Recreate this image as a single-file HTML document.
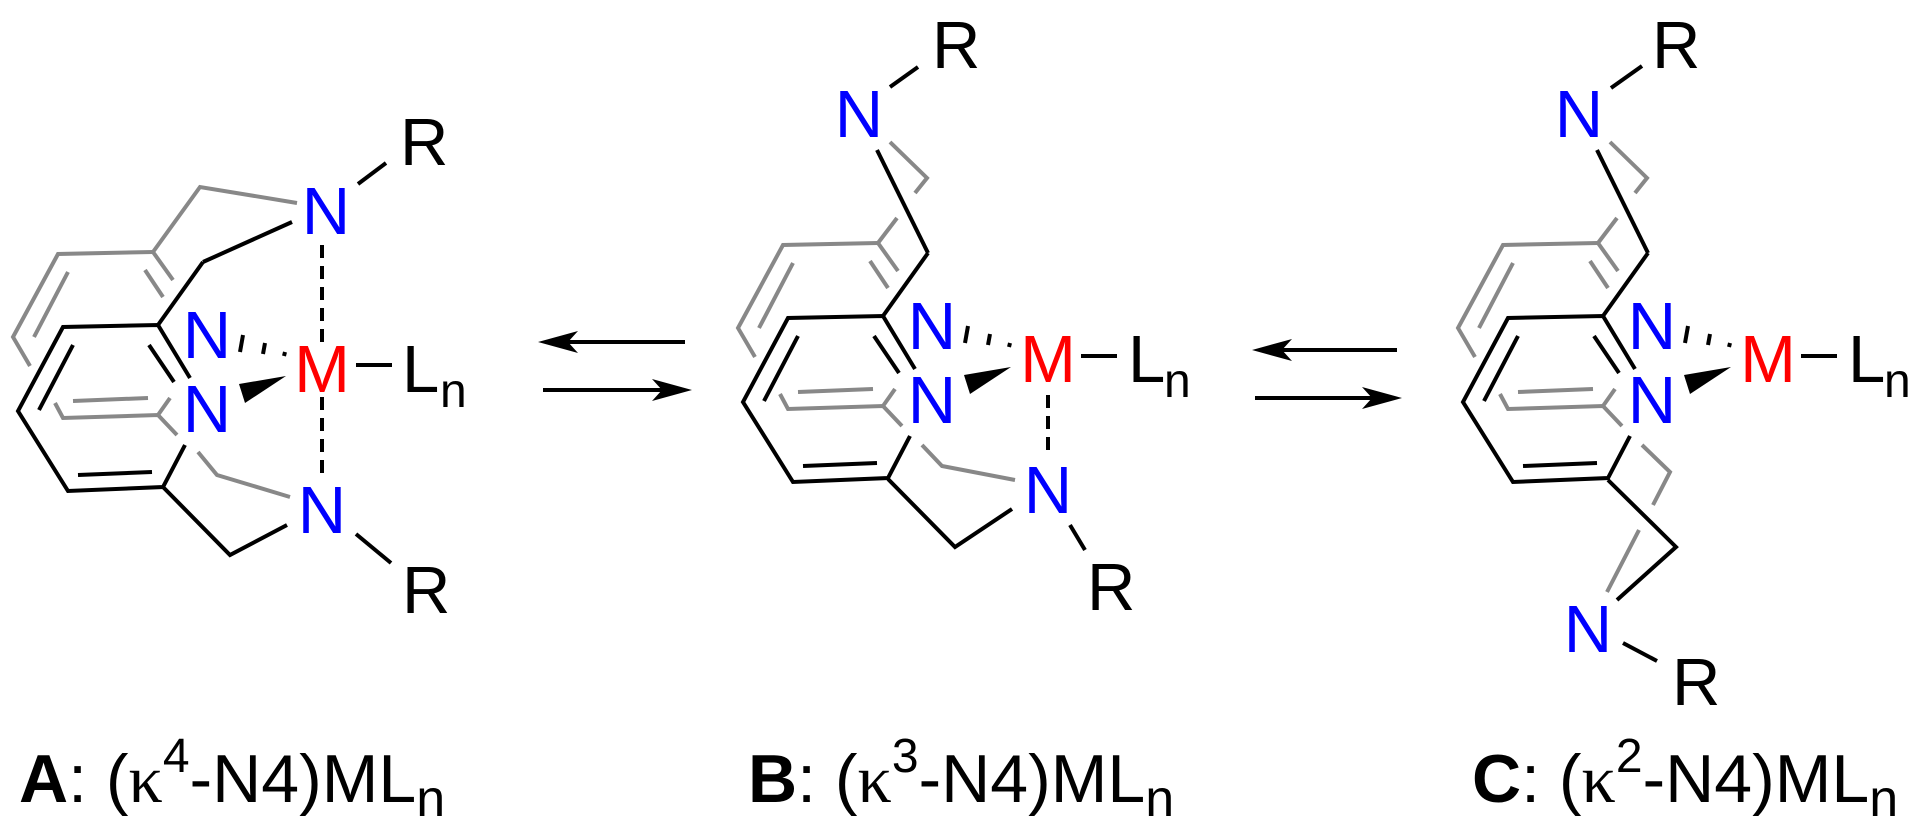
<!DOCTYPE html>
<html><head><meta charset="utf-8"><style>
html,body{margin:0;padding:0;background:#fff;}
svg{display:block;}
text{font-family:"Liberation Sans",sans-serif;}
</style></head><body>
<svg width="1920" height="836" viewBox="0 0 1920 836" xmlns="http://www.w3.org/2000/svg">
<defs>
<g id="ring">
  <g fill="none" stroke="#888" stroke-width="4" stroke-linejoin="miter">
    <polyline points="153,252 58,254 13,337 30,366"/>
    <line x1="68" y1="272" x2="34" y2="337"/>
    <line x1="145" y1="270" x2="163" y2="297"/>
    <line x1="153" y1="252" x2="173" y2="280"/>
    <polyline points="55,403 63,418 158,415 177,435"/>
    <line x1="158" y1="415" x2="170" y2="398"/>
    <line x1="73" y1="401" x2="148" y2="398"/>
  </g>
  <g fill="none" stroke="#000" stroke-width="4" stroke-linejoin="miter">
    <polyline points="190,378 158,325 63,327 18,411 68,491 163,487 185,445"/>
    <line x1="149" y1="345" x2="174" y2="382"/>
    <line x1="73" y1="345" x2="39" y2="410"/>
    <line x1="78" y1="475" x2="152" y2="472"/>
    <line x1="158" y1="325" x2="203" y2="262"/>
    <line x1="243" y1="335" x2="240" y2="352"/>
    <line x1="265" y1="343" x2="263" y2="354"/>
    <line x1="285" y1="352" x2="284" y2="356"/>
    <line x1="356" y1="365" x2="392" y2="365"/>
  </g>
  <polygon points="239,384 245,403 286,376" fill="#000"/>
</g>
</defs>

<!-- A -->
<use href="#ring"/>
<g fill="none" stroke="#888" stroke-width="4">
  <polyline points="297,203 200,187 153,252"/>
  <polyline points="198,452 217,475 290,497"/>
</g>
<g fill="none" stroke="#000" stroke-width="4">
  <polyline points="203,262 292,222"/>
  <line x1="358" y1="184" x2="386" y2="163"/>
  <polyline points="163,487 230,555 287,525"/>
  <line x1="356" y1="534" x2="391" y2="563"/>
  <line x1="322" y1="245" x2="322" y2="345" stroke-dasharray="13 8"/>
  <line x1="322" y1="397" x2="322" y2="477" stroke-dasharray="13 8"/>
</g>
<g font-size="67">
  <text x="326" y="234" fill="#00f" text-anchor="middle">N</text>
  <text x="400" y="165" fill="#000">R</text>
  <text x="207" y="358" fill="#00f" text-anchor="middle">N</text>
  <text x="207" y="432" fill="#00f" text-anchor="middle">N</text>
  <text x="322" y="392" fill="#f00" text-anchor="middle">M</text>
  <text x="402" y="392" fill="#000">L</text>
  <text x="322" y="533" fill="#00f" text-anchor="middle">N</text>
  <text x="402" y="613" fill="#000">R</text>
</g>
<text x="440" y="407" font-size="48">n</text>

<!-- B -->
<use href="#ring" transform="translate(725,-9)"/>
<g fill="none" stroke="#888" stroke-width="4">
  <line x1="878" y1="243" x2="897" y2="218"/>
  <polyline points="915,193 927,178 890,142"/>
  <polyline points="922,445 942,466 1015,480"/>
</g>
<g fill="none" stroke="#000" stroke-width="4">
  <line x1="928" y1="253" x2="877" y2="150"/>
  <line x1="890" y1="87" x2="918" y2="67"/>
  <polyline points="888,479 955,547 1012,509"/>
  <line x1="1070" y1="525" x2="1085" y2="550"/>
  <line x1="1048" y1="395" x2="1048" y2="458" stroke-dasharray="13 8"/>
</g>
<g font-size="67">
  <text x="859" y="137" fill="#00f" text-anchor="middle">N</text>
  <text x="932" y="68" fill="#000">R</text>
  <text x="932" y="349" fill="#00f" text-anchor="middle">N</text>
  <text x="932" y="423" fill="#00f" text-anchor="middle">N</text>
  <text x="1048" y="382" fill="#f00" text-anchor="middle">M</text>
  <text x="1128" y="382" fill="#000">L</text>
  <text x="1048" y="513" fill="#00f" text-anchor="middle">N</text>
  <text x="1087" y="610" fill="#000">R</text>
</g>
<text x="1164" y="397" font-size="48">n</text>

<!-- C -->
<use href="#ring" transform="translate(1445,-9)"/>
<g fill="none" stroke="#888" stroke-width="4">
  <line x1="1598" y1="243" x2="1617" y2="218"/>
  <polyline points="1635,193 1647,178 1610,142"/>
  <polyline points="1642,445 1670,472 1653,505"/>
  <line x1="1639" y1="530" x2="1607" y2="592"/>
</g>
<g fill="none" stroke="#000" stroke-width="4">
  <line x1="1648" y1="253" x2="1597" y2="150"/>
  <line x1="1611" y1="88" x2="1642" y2="66"/>
  <polyline points="1608,480 1676,547 1617,600"/>
  <line x1="1623" y1="643" x2="1657" y2="661"/>
</g>
<g font-size="67">
  <text x="1579" y="137" fill="#00f" text-anchor="middle">N</text>
  <text x="1652" y="68" fill="#000">R</text>
  <text x="1652" y="349" fill="#00f" text-anchor="middle">N</text>
  <text x="1652" y="423" fill="#00f" text-anchor="middle">N</text>
  <text x="1768" y="382" fill="#f00" text-anchor="middle">M</text>
  <text x="1848" y="382" fill="#000">L</text>
  <text x="1588" y="652" fill="#00f" text-anchor="middle">N</text>
  <text x="1672" y="705" fill="#000">R</text>
</g>
<text x="1884" y="397" font-size="48">n</text>

<!-- arrows -->
<g stroke="#000" stroke-width="4">
  <line x1="565" y1="342" x2="685" y2="342"/>
  <line x1="543" y1="390" x2="665" y2="390"/>
  <line x1="1280" y1="350" x2="1397" y2="350"/>
  <line x1="1255" y1="398" x2="1375" y2="398"/>
</g>
<g fill="#000">
  <polygon points="538,342 578,331 568,342 578,353"/>
  <polygon points="692,390 652,379 662,390 652,401"/>
  <polygon points="1252,350 1292,339 1282,350 1292,361"/>
  <polygon points="1402,398 1362,387 1372,398 1362,409"/>
</g>

<!-- labels -->
<g font-size="68">
  <text x="19" y="802"><tspan font-weight="bold">A</tspan>: (<tspan font-family="Liberation Serif">κ</tspan><tspan font-size="48" dy="-30">4</tspan><tspan dy="30">-N4)ML</tspan><tspan font-size="52" dy="14">n</tspan></text>
  <text x="748" y="802"><tspan font-weight="bold">B</tspan>: (<tspan font-family="Liberation Serif">κ</tspan><tspan font-size="48" dy="-30">3</tspan><tspan dy="30">-N4)ML</tspan><tspan font-size="52" dy="14">n</tspan></text>
  <text x="1472" y="802"><tspan font-weight="bold">C</tspan>: (<tspan font-family="Liberation Serif">κ</tspan><tspan font-size="48" dy="-30">2</tspan><tspan dy="30">-N4)ML</tspan><tspan font-size="52" dy="14">n</tspan></text>
</g>
</svg>
</body></html>
